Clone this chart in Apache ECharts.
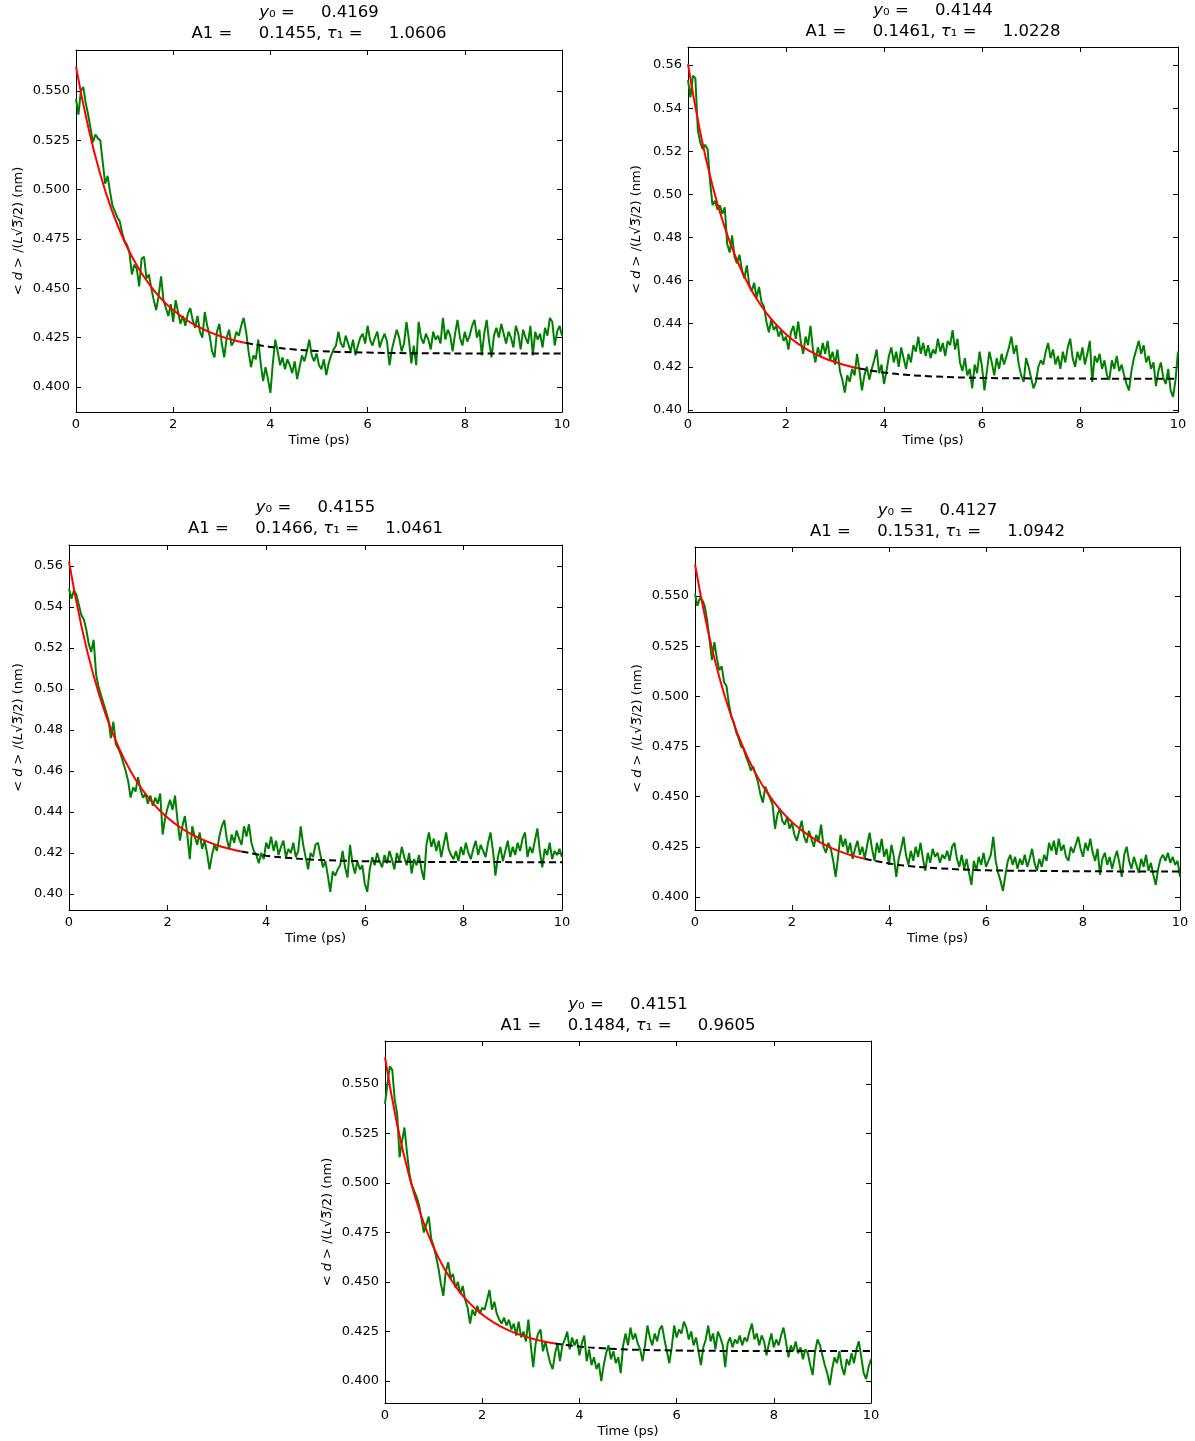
<!DOCTYPE html>
<html>
<head>
<meta charset="utf-8">
<script src="https://cdn.jsdelivr.net/npm/echarts@6/dist/echarts.min.js"></script>
<style>
html,body{margin:0;padding:0;background:#fff;}
#chart{width:1195px;height:1441px;}
</style>
</head>
<body>
<div id="chart"></div>
<script>
// ---------------- DATA ----------------
const TIME_STEP = 0.05; // ps, sampling of the trajectories (201 samples, 0..10 ps)

const y0Values  = ['0.4169', '0.4144', '0.4155', '0.4127', '0.4151'];
const a1Values  = ['0.1455', '0.1461', '0.1466', '0.1531', '0.1484'];
const tauValues = ['1.0606', '1.0228', '1.0461', '1.0942', '0.9605'];

const yTicks1 = [0.400, 0.425, 0.450, 0.475, 0.500, 0.525, 0.550];
const yTicks2 = [0.40, 0.42, 0.44, 0.46, 0.48, 0.50, 0.52, 0.54, 0.56];

const data1 = [
0.546,0.538,0.550,0.552,0.544,0.538,0.531,0.524,0.528,0.526,
0.525,0.514,0.503,0.507,0.499,0.492,0.489,0.486,0.484,0.478,
0.474,0.472,0.468,0.457,0.462,0.460,0.451,0.465,0.466,0.455,
0.457,0.450,0.444,0.439,0.446,0.456,0.444,0.440,0.436,0.442,
0.433,0.444,0.438,0.432,0.436,0.431,0.437,0.440,0.434,0.430,
0.436,0.428,0.425,0.438,0.431,0.426,0.418,0.415,0.428,0.432,
0.422,0.415,0.425,0.429,0.421,0.423,0.428,0.426,0.431,0.435,
0.428,0.418,0.410,0.416,0.414,0.424,0.412,0.403,0.410,0.404,
0.397,0.412,0.424,0.418,0.411,0.415,0.409,0.414,0.411,0.407,
0.413,0.404,0.410,0.416,0.413,0.418,0.424,0.416,0.413,0.417,
0.411,0.409,0.414,0.406,0.412,0.416,0.419,0.421,0.428,0.422,
0.420,0.426,0.422,0.418,0.424,0.416,0.421,0.425,0.427,0.422,
0.431,0.424,0.421,0.425,0.428,0.420,0.424,0.427,0.423,0.411,
0.419,0.424,0.429,0.425,0.418,0.422,0.433,0.424,0.412,0.421,
0.411,0.433,0.425,0.422,0.427,0.424,0.419,0.428,0.424,0.426,
0.422,0.435,0.424,0.429,0.426,0.418,0.427,0.434,0.425,0.421,
0.428,0.423,0.426,0.431,0.434,0.425,0.429,0.416,0.427,0.434,
0.423,0.415,0.426,0.430,0.425,0.432,0.427,0.422,0.428,0.425,
0.420,0.431,0.427,0.419,0.429,0.425,0.422,0.431,0.416,0.428,
0.424,0.427,0.420,0.430,0.426,0.435,0.433,0.421,0.428,0.431,
0.426];

const data2 = [
0.553,0.545,0.555,0.554,0.530,0.524,0.521,0.523,0.521,0.506,
0.495,0.497,0.493,0.495,0.491,0.494,0.477,0.473,0.481,0.471,
0.468,0.472,0.465,0.461,0.467,0.458,0.455,0.459,0.452,0.457,
0.450,0.448,0.441,0.436,0.442,0.437,0.439,0.434,0.437,0.432,
0.434,0.428,0.436,0.439,0.433,0.441,0.432,0.426,0.434,0.430,
0.439,0.428,0.422,0.429,0.425,0.431,0.426,0.432,0.423,0.427,
0.421,0.428,0.418,0.414,0.408,0.416,0.413,0.419,0.416,0.426,
0.418,0.409,0.416,0.420,0.414,0.419,0.423,0.428,0.417,0.421,
0.412,0.418,0.425,0.429,0.422,0.427,0.420,0.429,0.424,0.419,
0.426,0.422,0.430,0.427,0.434,0.426,0.431,0.425,0.430,0.424,
0.428,0.426,0.433,0.427,0.431,0.425,0.432,0.430,0.437,0.428,
0.433,0.422,0.418,0.424,0.416,0.419,0.410,0.421,0.417,0.427,
0.420,0.409,0.418,0.427,0.422,0.416,0.424,0.419,0.426,0.421,
0.425,0.429,0.434,0.426,0.430,0.421,0.416,0.413,0.424,0.420,
0.415,0.410,0.413,0.420,0.423,0.421,0.427,0.431,0.424,0.428,
0.421,0.425,0.419,0.427,0.422,0.429,0.433,0.424,0.420,0.427,
0.423,0.429,0.421,0.426,0.432,0.413,0.425,0.422,0.426,0.419,
0.423,0.416,0.414,0.423,0.419,0.425,0.418,0.421,0.416,0.412,
0.409,0.418,0.424,0.428,0.432,0.426,0.430,0.422,0.425,0.419,
0.422,0.411,0.418,0.422,0.415,0.412,0.419,0.409,0.406,0.414,
0.427];

const data3 = [
0.549,0.544,0.548,0.546,0.541,0.536,0.534,0.529,0.522,0.518,
0.524,0.507,0.501,0.497,0.493,0.489,0.485,0.476,0.484,0.473,
0.471,0.468,0.464,0.460,0.455,0.447,0.452,0.450,0.457,0.451,
0.447,0.449,0.444,0.448,0.443,0.447,0.444,0.449,0.429,0.437,
0.442,0.446,0.441,0.448,0.436,0.426,0.433,0.438,0.429,0.417,
0.433,0.428,0.424,0.430,0.422,0.426,0.420,0.412,0.419,0.424,
0.421,0.428,0.433,0.436,0.427,0.422,0.429,0.425,0.431,0.427,
0.424,0.433,0.428,0.434,0.425,0.421,0.419,0.415,0.420,0.417,
0.425,0.422,0.428,0.421,0.426,0.419,0.423,0.426,0.418,0.422,
0.420,0.425,0.418,0.421,0.433,0.424,0.418,0.412,0.420,0.418,
0.424,0.425,0.419,0.413,0.416,0.409,0.401,0.411,0.409,0.412,
0.414,0.421,0.413,0.408,0.424,0.415,0.410,0.416,0.412,0.414,
0.405,0.401,0.412,0.418,0.414,0.420,0.416,0.413,0.419,0.415,
0.421,0.417,0.412,0.420,0.416,0.423,0.418,0.414,0.420,0.410,
0.417,0.414,0.419,0.412,0.407,0.424,0.430,0.423,0.427,0.421,
0.426,0.418,0.424,0.430,0.422,0.419,0.417,0.421,0.416,0.423,
0.419,0.425,0.420,0.417,0.422,0.426,0.419,0.424,0.421,0.418,
0.425,0.430,0.421,0.409,0.418,0.423,0.416,0.421,0.426,0.418,
0.423,0.419,0.425,0.421,0.427,0.430,0.418,0.423,0.420,0.426,
0.432,0.421,0.413,0.422,0.419,0.425,0.417,0.421,0.419,0.422,
0.418];

const data4 = [
0.551,0.545,0.549,0.548,0.545,0.538,0.528,0.518,0.527,0.519,
0.513,0.515,0.507,0.505,0.496,0.490,0.487,0.482,0.479,0.475,
0.474,0.470,0.467,0.463,0.465,0.461,0.457,0.451,0.447,0.455,
0.452,0.449,0.446,0.434,0.441,0.444,0.438,0.436,0.440,0.434,
0.437,0.431,0.428,0.433,0.438,0.430,0.427,0.433,0.429,0.425,
0.431,0.428,0.436,0.425,0.422,0.427,0.424,0.418,0.410,0.420,
0.431,0.425,0.429,0.422,0.427,0.419,0.424,0.428,0.421,0.425,
0.419,0.426,0.432,0.424,0.418,0.427,0.422,0.429,0.420,0.424,
0.416,0.426,0.420,0.410,0.419,0.424,0.430,0.421,0.416,0.423,
0.418,0.425,0.420,0.427,0.419,0.413,0.422,0.417,0.424,0.420,
0.422,0.417,0.421,0.419,0.423,0.418,0.425,0.427,0.419,0.415,
0.421,0.414,0.419,0.412,0.406,0.418,0.413,0.420,0.416,0.422,
0.415,0.418,0.421,0.430,0.418,0.412,0.408,0.403,0.411,0.418,
0.421,0.416,0.420,0.414,0.419,0.416,0.421,0.415,0.419,0.424,
0.417,0.413,0.419,0.415,0.421,0.418,0.427,0.423,0.428,0.421,
0.429,0.423,0.426,0.420,0.418,0.425,0.422,0.426,0.430,0.424,
0.420,0.427,0.423,0.429,0.422,0.418,0.424,0.411,0.419,0.422,
0.416,0.420,0.414,0.419,0.423,0.417,0.410,0.421,0.425,0.418,
0.414,0.420,0.416,0.412,0.419,0.415,0.421,0.413,0.417,0.411,
0.406,0.414,0.419,0.421,0.418,0.422,0.417,0.420,0.416,0.418,
0.410];

const data5 = [
0.540,0.550,0.559,0.557,0.542,0.535,0.513,0.521,0.528,0.516,
0.505,0.499,0.496,0.493,0.489,0.482,0.475,0.479,0.483,0.472,
0.468,0.463,0.457,0.449,0.443,0.455,0.460,0.452,0.454,0.447,
0.450,0.444,0.448,0.441,0.437,0.429,0.436,0.433,0.438,0.434,
0.437,0.436,0.441,0.446,0.436,0.440,0.434,0.431,0.429,0.432,
0.428,0.431,0.426,0.429,0.423,0.430,0.422,0.425,0.420,0.431,
0.418,0.407,0.419,0.424,0.426,0.415,0.420,0.414,0.409,0.406,
0.414,0.419,0.410,0.418,0.421,0.425,0.416,0.422,0.418,0.421,
0.413,0.419,0.423,0.410,0.416,0.408,0.412,0.406,0.409,0.400,
0.408,0.414,0.418,0.411,0.415,0.409,0.412,0.404,0.418,0.424,
0.418,0.427,0.421,0.424,0.419,0.416,0.410,0.418,0.428,0.422,
0.418,0.424,0.420,0.426,0.428,0.421,0.415,0.409,0.417,0.428,
0.422,0.426,0.424,0.430,0.427,0.421,0.425,0.418,0.422,0.415,
0.408,0.417,0.421,0.428,0.420,0.424,0.416,0.425,0.422,0.418,
0.407,0.419,0.422,0.417,0.421,0.419,0.423,0.418,0.422,0.420,
0.425,0.429,0.421,0.424,0.418,0.423,0.420,0.413,0.419,0.424,
0.417,0.421,0.418,0.423,0.427,0.420,0.412,0.418,0.415,0.420,
0.414,0.417,0.411,0.416,0.414,0.408,0.403,0.415,0.421,0.418,
0.413,0.408,0.404,0.398,0.406,0.412,0.409,0.415,0.407,0.403,
0.411,0.408,0.414,0.409,0.416,0.420,0.412,0.404,0.401,0.407,
0.411];

const fitSolidT = [0,0.25,0.5,0.75,1,1.25,1.5,1.75,2,2.25,2.5,2.75,3,3.25,3.5];
const fitDashT  = [3.5,4,4.5,5,6,7,8,10];
const fitSolid1 = [0.5624,0.5319,0.5077,0.4887,0.4736,0.4617,0.4523,0.4448,0.4390,0.4343,0.4307,0.4278,0.4255,0.4237,0.4223];
const fitDash1  = [0.4223,0.4203,0.4190,0.4182,0.4174,0.4171,0.4170,0.4169];
const fitSolid2 = [0.5605,0.5288,0.5040,0.4846,0.4694,0.4574,0.4481,0.4408,0.4351,0.4306,0.4271,0.4243,0.4222,0.4205,0.4192];
const fitDash2  = [0.4192,0.4173,0.4162,0.4155,0.4148,0.4146,0.4145,0.4144];
const fitSolid3 = [0.5621,0.5309,0.5064,0.4871,0.4719,0.4599,0.4505,0.4430,0.4372,0.4326,0.4289,0.4261,0.4238,0.4221,0.4207];
const fitDash3  = [0.4207,0.4187,0.4175,0.4167,0.4160,0.4157,0.4156,0.4155];
const fitSolid4 = [0.5658,0.5345,0.5096,0.4899,0.4741,0.4616,0.4516,0.4436,0.4373,0.4323,0.4283,0.4251,0.4226,0.4206,0.4190];
const fitDash4  = [0.4190,0.4167,0.4152,0.4143,0.4133,0.4130,0.4128,0.4127];
const fitSolid5 = [0.5635,0.5295,0.5033,0.4831,0.4675,0.4555,0.4462,0.4391,0.4336,0.4294,0.4261,0.4236,0.4216,0.4201,0.4190];
const fitDash5  = [0.4190,0.4174,0.4165,0.4159,0.4154,0.4152,0.4151,0.4151];

// ---------------- LAYOUT ----------------
const FONT = 'DejaVu Sans';
const panels = [
  {data: data1, fs: fitSolid1, fd: fitDash1, left: 76,  top: 50,   w: 486, h: 362, ymin: 0.3873, ymax: 0.5708, ticks: yTicks1, dec: 3, nameGap: 51, titleTop: 2},
  {data: data2, fs: fitSolid2, fd: fitDash2, left: 688, top: 47,   w: 490, h: 365, ymin: 0.3990, ymax: 0.5684, ticks: yTicks2, dec: 2, nameGap: 45, titleTop: 0},
  {data: data3, fs: fitSolid3, fd: fitDash3, left: 69,  top: 545,  w: 493, h: 365, ymin: 0.3922, ymax: 0.5702, ticks: yTicks2, dec: 2, nameGap: 44, titleTop: 497},
  {data: data4, fs: fitSolid4, fd: fitDash4, left: 695, top: 547,  w: 485, h: 363, ymin: 0.3935, ymax: 0.5744, ticks: yTicks1, dec: 3, nameGap: 51, titleTop: 500},
  {data: data5, fs: fitSolid5, fd: fitDash5, left: 385, top: 1041, w: 486, h: 362, ymin: 0.3889, ymax: 0.5717, ticks: yTicks1, dec: 3, nameGap: 51, titleTop: 994}
];

const grids = [], xAxes = [], yAxes = [], series = [], titles = [];
const axisLineStyle = {color: '#000', width: 1};
const labelStyle = {fontFamily: FONT, fontSize: 13, color: '#000'};

panels.forEach((p, i) => {
  grids.push({left: p.left, top: p.top, width: p.w, height: p.h, containLabel: false});
  const xBase = {type: 'value', gridIndex: i, min: 0, max: 10, interval: 2,
    axisLine: {show: true, onZero: false, lineStyle: axisLineStyle},
    axisTick: {show: true, inside: true, length: 5, lineStyle: axisLineStyle},
    splitLine: {show: false}};
  xAxes.push(Object.assign({}, xBase, {position: 'bottom',
    axisLabel: Object.assign({margin: 6, formatter: v => String(v)}, labelStyle),
    name: 'Time (ps)', nameLocation: 'middle', nameGap: 22,
    nameTextStyle: {fontFamily: FONT, fontSize: 13, color: '#000'}}));
  xAxes.push(Object.assign({}, xBase, {position: 'top', axisLabel: {show: false}}));

  const yBase = {type: 'value', gridIndex: i, min: p.ymin, max: p.ymax,
    axisLine: {show: true, onZero: false, lineStyle: axisLineStyle},
    axisTick: {show: true, inside: true, length: 5, lineStyle: axisLineStyle, customValues: p.ticks},
    splitLine: {show: false}};
  yAxes.push(Object.assign({}, yBase, {position: 'left',
    axisLabel: Object.assign({margin: 6, customValues: p.ticks, formatter: v => v.toFixed(p.dec)}, labelStyle),
    name: '< {i|d} > /({i|L}√3\u0305/2) (nm)', nameLocation: 'middle', nameRotate: 90, nameGap: p.nameGap,
    nameTextStyle: {fontFamily: FONT, fontSize: 13, color: '#000',
      rich: {i: {fontFamily: FONT, fontSize: 13, fontStyle: 'italic', color: '#000'}}}}));
  yAxes.push(Object.assign({}, yBase, {position: 'right', axisLabel: {show: false},
    axisTick: Object.assign({}, yBase.axisTick)}));

  const xi = i * 2, yi = i * 2;
  series.push({type: 'line', xAxisIndex: xi, yAxisIndex: yi, showSymbol: false, symbol: 'none',
    data: p.data.map((v, k) => [+(k * TIME_STEP).toFixed(2), v]),
    lineStyle: {color: '#008000', width: 2}, itemStyle: {color: '#008000'}, z: 2, silent: true, animation: false});
  series.push({type: 'line', xAxisIndex: xi, yAxisIndex: yi, showSymbol: false, symbol: 'none', smooth: true,
    data: fitSolidT.map((t, k) => [t, p.fs[k]]),
    lineStyle: {color: '#ff0000', width: 2}, itemStyle: {color: '#ff0000'}, z: 3, silent: true, animation: false});
  series.push({type: 'line', xAxisIndex: xi, yAxisIndex: yi, showSymbol: false, symbol: 'none', smooth: true,
    data: fitDashT.map((t, k) => [t, p.fd[k]]),
    lineStyle: {color: '#000000', width: 2, type: [7, 4]}, itemStyle: {color: '#000'}, z: 3, silent: true, animation: false});

  titles.push({
    text: '{i|y}₀ =     ' + y0Values[i] + '\nA1 =     ' + a1Values[i] + ', {i|τ}₁ =     ' + tauValues[i],
    left: p.left + p.w / 2, top: p.titleTop, textAlign: 'center', padding: 0,
    textStyle: {fontFamily: FONT, fontSize: 16.5, fontWeight: 'normal', color: '#000', lineHeight: 21,
      rich: {i: {fontFamily: FONT, fontSize: 16.5, fontStyle: 'italic', color: '#000', lineHeight: 21}}}
  });
});

const chart = echarts.init(document.getElementById('chart'), null, {renderer: 'canvas'});
chart.setOption({
  backgroundColor: '#ffffff',
  animation: false,
  title: titles,
  grid: grids,
  xAxis: xAxes,
  yAxis: yAxes,
  series: series
});
</script>
</body>
</html>
